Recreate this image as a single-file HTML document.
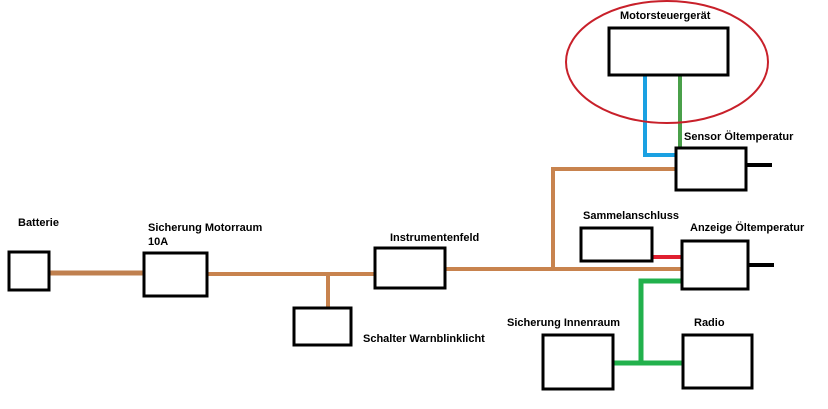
<!DOCTYPE html>
<html><head><style>body{margin:0;background:#fff}svg{display:block}text{font-family:"Liberation Sans",sans-serif;font-weight:bold;font-size:11px;fill:#000}</style></head>
<body>
<svg width="828" height="409" viewBox="0 0 828 409" xmlns="http://www.w3.org/2000/svg">
<rect width="828" height="409" fill="#fff"/>
<g fill="none" stroke-width="4">
<line x1="50" y1="273" x2="143" y2="273" stroke="#c0804f" stroke-width="5"/>
<polyline points="208,274 374,274" stroke="#c8834e"/>
<line x1="328" y1="274" x2="328" y2="307" stroke="#c8834e"/>
<line x1="446" y1="269" x2="681" y2="269" stroke="#c8834e"/>
<polyline points="553,269 553,169 675,169" stroke="#c8834e"/>
<polyline points="645,76 645,155 675,155" stroke="#1ba1e2"/>
<line x1="680" y1="76" x2="680" y2="147" stroke="#4aa04a"/>
<line x1="653" y1="257" x2="681" y2="257" stroke="#e02030"/>
<polyline points="681,281 641,281 641,363" stroke="#22b14c" stroke-width="5"/>
<line x1="614" y1="363" x2="682" y2="363" stroke="#22b14c" stroke-width="5"/>
<line x1="747" y1="165" x2="772" y2="165" stroke="#000"/>
<line x1="749" y1="265" x2="774" y2="265" stroke="#000"/>
<ellipse cx="667" cy="62" rx="101" ry="61" stroke="#c8202a" stroke-width="2"/>
</g>
<g fill="#fff" stroke="#000" stroke-width="3">
<rect x="9" y="252" width="40" height="38"/>
<rect x="144" y="253" width="63" height="43"/>
<rect x="294" y="308" width="57" height="37"/>
<rect x="375" y="248" width="70" height="40"/>
<rect x="609" y="28" width="119" height="47"/>
<rect x="676" y="148" width="70" height="42"/>
<rect x="581" y="228" width="71" height="33"/>
<rect x="682" y="241" width="66" height="48"/>
<rect x="543" y="335" width="70" height="54"/>
<rect x="683" y="335" width="69" height="53"/>
</g>
<text x="18" y="226">Batterie</text>
<text x="148" y="231">Sicherung Motorraum</text>
<text x="148" y="245">10A</text>
<text x="390" y="241">Instrumentenfeld</text>
<text x="363" y="342">Schalter Warnblinklicht</text>
<text x="620" y="19">Motorsteuergerät</text>
<text x="684" y="140">Sensor Öltemperatur</text>
<text x="583" y="219">Sammelanschluss</text>
<text x="690" y="231">Anzeige Öltemperatur</text>
<text x="507" y="326">Sicherung Innenraum</text>
<text x="694" y="326">Radio</text>
</svg>
</body></html>
